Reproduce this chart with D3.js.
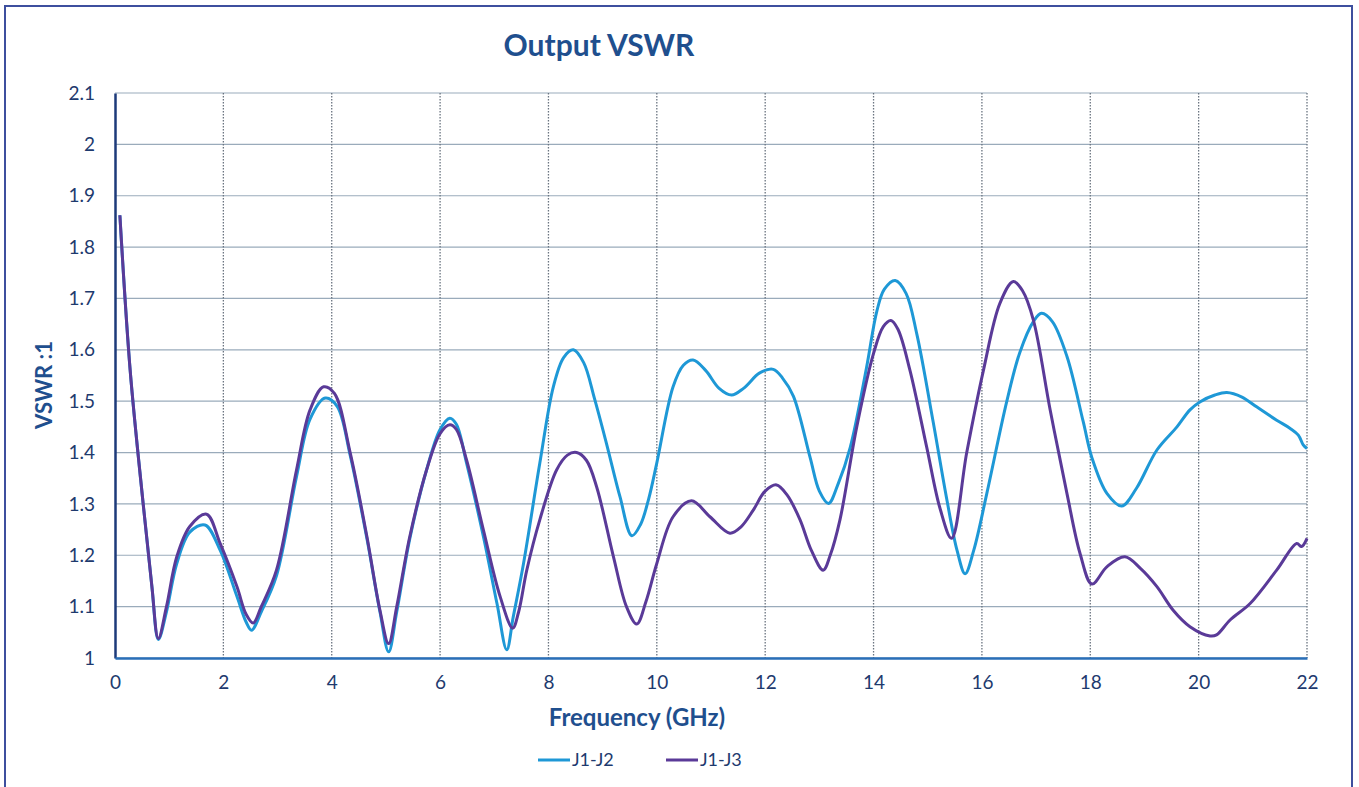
<!DOCTYPE html>
<html><head><meta charset="utf-8">
<script src="https://cdn.jsdelivr.net/npm/d3@7"></script>
<style>body{margin:0;background:#fff}svg{display:block}</style>
</head><body>
<svg id="c" width="1359" height="787"></svg>
<script>
const xTicks = [0,2,4,6,8,10,12,14,16,18,20,22];
const yTicks = [1,1.1,1.2,1.3,1.4,1.5,1.6,1.7,1.8,1.9,2,2.1];
const seriesNames = ["J1-J2","J1-J3"];
const j1j2 = [[0.09,1.862],[0.28,1.56],[0.52,1.30],[0.68,1.14],[0.80,1.036],[0.95,1.09],[1.14,1.184],[1.38,1.245],[1.66,1.259],[1.94,1.21],[2.25,1.12],[2.42,1.07],[2.52,1.054],[2.7,1.09],[2.98,1.16],[3.35,1.353],[3.6,1.465],[3.88,1.506],[4.1,1.49],[4.34,1.395],[4.65,1.232],[4.89,1.09],[5.05,1.012],[5.2,1.09],[5.44,1.232],[5.75,1.366],[6.0,1.445],[6.18,1.467],[6.3,1.455],[6.49,1.379],[6.8,1.236],[7.05,1.106],[7.23,1.016],[7.35,1.08],[7.54,1.184],[7.84,1.379],[8.09,1.528],[8.28,1.585],[8.46,1.600],[8.65,1.575],[8.85,1.505],[9.07,1.418],[9.32,1.314],[9.54,1.238],[9.7,1.26],[9.85,1.31],[10.0,1.38],[10.3,1.528],[10.49,1.570],[10.67,1.580],[10.9,1.56],[11.15,1.525],[11.38,1.512],[11.6,1.525],[11.9,1.555],[12.15,1.562],[12.32,1.545],[12.52,1.51],[12.83,1.39],[13.0,1.325],[13.17,1.301],[13.35,1.34],[13.57,1.41],[13.87,1.565],[14.06,1.675],[14.2,1.718],[14.4,1.735],[14.6,1.71],[14.8,1.63],[15.1,1.46],[15.35,1.31],[15.54,1.21],[15.69,1.164],[15.85,1.21],[16.09,1.32],[16.46,1.50],[16.7,1.595],[16.95,1.655],[17.1,1.671],[17.3,1.655],[17.57,1.587],[17.87,1.46],[18.03,1.39],[18.31,1.32],[18.58,1.296],[18.85,1.33],[19.23,1.405],[19.6,1.45],[19.84,1.483],[20.03,1.499],[20.3,1.512],[20.52,1.517],[20.8,1.508],[21.07,1.489],[21.44,1.463],[21.69,1.447],[21.84,1.434],[21.93,1.415],[22.0,1.408]];
const j1j3 = [[0.09,1.862],[0.28,1.56],[0.52,1.30],[0.68,1.14],[0.80,1.038],[0.95,1.10],[1.14,1.197],[1.38,1.256],[1.69,1.280],[1.94,1.223],[2.25,1.139],[2.42,1.085],[2.55,1.068],[2.7,1.10],[2.98,1.171],[3.35,1.366],[3.6,1.483],[3.85,1.528],[4.05,1.515],[4.34,1.40],[4.65,1.236],[4.89,1.093],[5.05,1.028],[5.2,1.10],[5.44,1.236],[5.75,1.366],[6.0,1.437],[6.18,1.454],[6.3,1.445],[6.49,1.385],[6.8,1.249],[7.11,1.119],[7.34,1.058],[7.45,1.09],[7.6,1.171],[7.84,1.269],[8.15,1.366],[8.35,1.395],[8.52,1.400],[8.7,1.385],[8.89,1.333],[9.2,1.197],[9.44,1.10],[9.63,1.066],[9.8,1.11],[10.0,1.184],[10.3,1.275],[10.64,1.306],[10.98,1.275],[11.35,1.243],[11.55,1.255],[11.78,1.288],[12.0,1.325],[12.21,1.337],[12.4,1.318],[12.64,1.27],[12.85,1.21],[13.07,1.171],[13.2,1.2],[13.38,1.269],[13.69,1.45],[14.0,1.593],[14.18,1.645],[14.32,1.657],[14.45,1.64],[14.67,1.561],[14.98,1.411],[15.23,1.29],[15.44,1.233],[15.72,1.40],[16.03,1.561],[16.33,1.69],[16.58,1.733],[16.75,1.715],[16.95,1.658],[17.26,1.483],[17.57,1.32],[17.81,1.204],[18.03,1.144],[18.31,1.178],[18.64,1.197],[18.92,1.175],[19.23,1.139],[19.53,1.093],[19.84,1.061],[20.21,1.043],[20.33,1.045],[20.58,1.074],[20.95,1.106],[21.44,1.171],[21.81,1.223],[21.9,1.217],[22.0,1.233]];

const colors = ["#1e98d6","#5a3a98"];
const svg = d3.select("#c");
const L=115,R=1307,T=93,B=658;
const x = d3.scaleLinear().domain([0,22]).range([L,R]);
const y = d3.scaleLinear().domain([1,2.1]).range([B,T]);

// outer frame
svg.append("rect").attr("x",5).attr("y",6).attr("width",1347).attr("height",800)
  .attr("fill","none").attr("stroke","#3d4f9e").attr("stroke-width",2);

// horizontal grid
svg.append("g").selectAll("line").data(yTicks).join("line")
  .attr("x1",L).attr("x2",R).attr("y1",d=>y(d)).attr("y2",d=>y(d))
  .attr("stroke","#9aabbb").attr("stroke-width",1.2);
// vertical grid dotted
svg.append("g").selectAll("line").data(xTicks.slice(1)).join("line")
  .attr("x1",d=>x(d)).attr("x2",d=>x(d)).attr("y1",T).attr("y2",B)
  .attr("stroke","#6a7480").attr("stroke-width",1.3).attr("stroke-dasharray","1.5,1.5");

// axes
const font="Lato, 'Open Sans', sans-serif";
const yAxis = svg.append("g").attr("transform",`translate(${L},0)`)
  .call(d3.axisLeft(y).tickValues(yTicks).tickSize(0).tickPadding(20).tickFormat(d3.format("~g")));
yAxis.select(".domain").attr("stroke","#1d3a7a").attr("stroke-width",2.5);
yAxis.selectAll("text").attr("font-family",font).attr("font-size",19).attr("fill","#1e3a6e");
const xAxis = svg.append("g").attr("transform",`translate(0,${B})`)
  .call(d3.axisBottom(x).tickValues(xTicks).tickSize(0).tickPadding(18));
xAxis.select(".domain").attr("stroke","#2a6fb8").attr("stroke-width",2.5);
xAxis.selectAll("text").attr("font-family",font).attr("font-size",19).attr("fill","#1e3a6e");

// lines
const line = d3.line().x(d=>x(d[0])).y(d=>y(d[1])).curve(d3.curveCatmullRom.alpha(0.5));
[j1j2,j1j3].forEach((s,i)=>{
  svg.append("path").datum(s).attr("d",line).attr("fill","none")
    .attr("stroke",colors[i]).attr("stroke-width",3).attr("stroke-linejoin","round");
});

// titles
svg.append("text").attr("x",599).attr("y",56).attr("text-anchor","middle")
  .attr("font-family",font).attr("font-weight","bold").attr("font-size",30).attr("fill","#1f4f8e").text("Output VSWR");
svg.append("text").attr("x",637).attr("y",726).attr("text-anchor","middle")
  .attr("font-family",font).attr("font-weight","bold").attr("font-size",24).attr("fill","#1f4f8e").text("Frequency (GHz)");
svg.append("text").attr("transform","translate(52,385) rotate(-90)").attr("text-anchor","middle")
  .attr("font-family",font).attr("font-weight","bold").attr("font-size",22).attr("fill","#1f4f8e").text("VSWR :1");

// legend
const lg = svg.append("g");
const lx=[538,666];
seriesNames.forEach((n,i)=>{
  lg.append("line").attr("x1",lx[i]).attr("x2",lx[i]+32).attr("y1",760).attr("y2",760)
    .attr("stroke",colors[i]).attr("stroke-width",3);
  lg.append("text").attr("x",lx[i]+34).attr("y",766).attr("font-family",font)
    .attr("font-size",18).attr("fill","#1e3a6e").text(n);
});
</script>
</body></html>
